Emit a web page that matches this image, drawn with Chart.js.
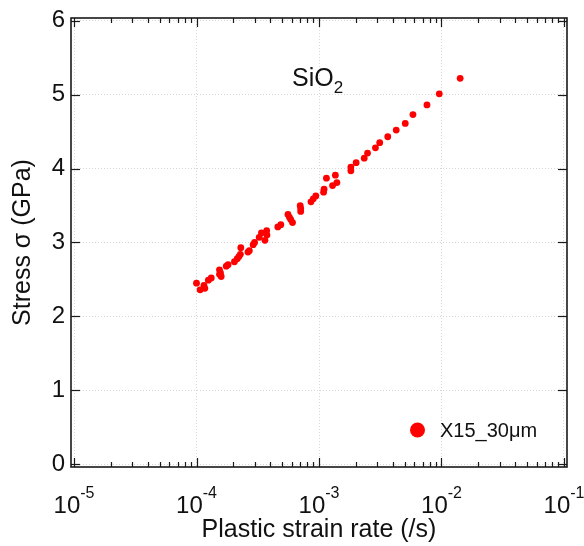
<!DOCTYPE html>
<html>
<head>
<meta charset="utf-8">
<script src="https://cdn.jsdelivr.net/npm/chart.js@4/dist/chart.umd.min.js"></script>
<style>
  html, body { margin: 0; padding: 0; background: #fff; }
  #wrap { width: 584px; height: 546px; position: relative; }
</style>
</head>
<body>
<div id="wrap"><canvas id="grafico"></canvas></div>
<script>
// Dados (taxa de deformação plástica em 1/s, tensão em GPa)
const strainRate = [
  1.00e-4, 1.07e-4, 1.15e-4, 1.17e-4, 1.25e-4, 1.32e-4, 1.54e-4, 1.57e-4, 1.54e-4, 1.59e-4,
  1.75e-4, 1.81e-4, 2.04e-4, 2.15e-4, 2.22e-4, 2.28e-4, 2.30e-4, 2.63e-4, 2.70e-4, 2.90e-4,
  2.98e-4, 3.25e-4, 3.39e-4, 3.62e-4, 3.76e-4, 3.74e-4, 4.61e-4, 4.88e-4, 5.58e-4, 5.74e-4,
  5.88e-4, 6.08e-4, 7.02e-4, 7.09e-4, 7.09e-4, 8.60e-4, 8.98e-4, 9.42e-4, 1.09e-3, 1.10e-3,
  1.15e-3, 1.29e-3, 1.40e-3, 1.36e-3, 1.82e-3, 1.82e-3, 2.01e-3, 2.34e-3, 2.49e-3, 2.89e-3,
  3.13e-3, 3.64e-3, 4.27e-3, 5.06e-3, 5.85e-3, 7.61e-3, 9.59e-3, 1.42e-2
];
const stress = [
  2.45, 2.36, 2.42, 2.38, 2.49, 2.52, 2.63, 2.59, 2.57, 2.54,
  2.68, 2.70, 2.74, 2.78, 2.81, 2.84, 2.93, 2.87, 2.89, 2.97,
  3.00, 3.07, 3.13, 3.03, 3.10, 3.16, 3.21, 3.24, 3.38, 3.34,
  3.31, 3.27, 3.50, 3.46, 3.42, 3.55, 3.59, 3.63, 3.68, 3.72,
  3.87, 3.77, 3.81, 3.91, 3.97, 4.02, 4.08, 4.14, 4.21, 4.28,
  4.35, 4.43, 4.52, 4.61, 4.73, 4.86, 5.01, 5.22
];
const seriesLabel = 'X15_30μm';
const xExponents = [-5, -4, -3, -2, -1];
const yTicks = [0, 1, 2, 3, 4, 5, 6];

const FONT = "'Liberation Sans', Arial, sans-serif";
const INK = '#111';
const GRID = '#d6d6d6';

function line(ctx, x1, y1, x2, y2) {
  ctx.beginPath();
  ctx.moveTo(x1, y1);
  ctx.lineTo(x2, y2);
  ctx.stroke();
}

// Moldura, ticks internos, rótulos 10^n, legenda e anotação
const molduraPlugin = {
  id: 'moldura',
  afterDraw(chart) {
    const { ctx, chartArea: a, scales: { x, y } } = chart;
    ctx.save();
    ctx.strokeStyle = '#1a1a1a';
    ctx.lineWidth = 1.2;
    x.ticks.forEach(t => {
      const px = Math.round(x.getPixelForValue(t.value)) + 0.5;
      const len = t.major ? 9 : 5;
      line(ctx, px, a.bottom, px, a.bottom - len);
      line(ctx, px, a.top, px, a.top + len);
    });
    y.ticks.forEach(t => {
      const py = Math.round(y.getPixelForValue(t.value)) + 0.5;
      line(ctx, a.left, py, a.left + 9, py);
      line(ctx, a.right, py, a.right - 9, py);
    });
    ctx.lineWidth = 1.6;
    ctx.strokeRect(a.left, a.top, a.right - a.left, a.bottom - a.top);

    // rótulos do eixo x com expoente
    ctx.fillStyle = INK;
    ctx.textBaseline = 'alphabetic';
    x.ticks.filter(t => t.major).forEach(t => {
      const px = x.getPixelForValue(t.value);
      const exp = String(Math.round(Math.log10(t.value)));
      ctx.font = '24px ' + FONT;
      const wBase = ctx.measureText('10').width;
      ctx.font = '16px ' + FONT;
      const wExp = ctx.measureText(exp).width;
      const x0 = px - (wBase + wExp) / 2;
      ctx.font = '24px ' + FONT;
      ctx.textAlign = 'left';
      ctx.fillText('10', x0, 513);
      ctx.font = '16px ' + FONT;
      ctx.fillText(exp, x0 + wBase, 498);
    });

    // anotação SiO2
    ctx.font = '25px ' + FONT;
    ctx.textAlign = 'left';
    const wSi = ctx.measureText('SiO').width;
    ctx.fillText('SiO', 292, 86);
    ctx.font = '17px ' + FONT;
    ctx.fillText('2', 292 + wSi, 93);

    // legenda
    const ds = chart.data.datasets[0];
    ctx.fillStyle = ds.backgroundColor;
    ctx.beginPath();
    ctx.arc(417.5, 430, 7.5, 0, Math.PI * 2);
    ctx.fill();
    ctx.fillStyle = INK;
    ctx.font = '20px ' + FONT;
    ctx.textBaseline = 'middle';
    ctx.fillText(ds.label, 440, 431);
    ctx.restore();
  }
};

const ctx = document.getElementById('grafico').getContext('2d');

new Chart(ctx, {
  type: 'scatter',
  data: {
    datasets: [{
      label: seriesLabel,
      data: strainRate.map((v, i) => ({ x: v, y: stress[i] })),
      backgroundColor: '#ff0000',
      borderWidth: 0,
      pointRadius: 3.4,
      pointHoverRadius: 3.4
    }]
  },
  options: {
    responsive: true,
    maintainAspectRatio: false,
    animation: false,
    events: [],
    layout: { padding: { top: 14, right: 17, left: 0, bottom: 0 } },
    plugins: {
      legend: { display: false },
      tooltip: { enabled: false }
    },
    scales: {
      x: {
        type: 'logarithmic',
        min: Math.pow(10, -5.0245),
        max: Math.pow(10, -0.9755),
        afterBuildTicks: scale => {
          const ticks = [];
          xExponents.forEach(e => {
            const base = Math.pow(10, e);
            ticks.push({ value: base, major: true });
            if (e < -1) {
              for (let m = 2; m <= 9; m++) ticks.push({ value: m * base, major: false });
            }
          });
          scale.ticks = ticks;
        },
        afterFit: scale => { scale.height = 79; },
        grid: {
          color: c => (c.tick && c.tick.major) ? GRID : 'rgba(0,0,0,0)',
          lineWidth: 1,
          drawTicks: false
        },
        border: { display: false, dash: [1, 2] },
        ticks: { display: false },
        title: {
          display: true,
          text: 'Plastic strain rate (/s)',
          color: INK,
          font: { family: FONT, size: 25 },
          padding: { top: 0, bottom: 1 }
        }
      },
      y: {
        type: 'linear',
        min: -0.036,
        max: 6.036,
        afterBuildTicks: scale => {
          scale.ticks = yTicks.map(v => ({ value: v }));
        },
        afterFit: scale => { scale.width = 71; },
        grid: {
          color: GRID,
          lineWidth: 1,
          drawTicks: false
        },
        border: { display: false, dash: [1, 2] },
        ticks: {
          color: INK,
          padding: 6,
          font: { family: FONT, size: 24, lineHeight: 1 },
          callback: v => String(v)
        },
        title: {
          display: true,
          text: 'Stress σ (GPa)',
          color: INK,
          font: { family: FONT, size: 25 },
          padding: { top: 8, bottom: 0 }
        }
      }
    }
  },
  plugins: [molduraPlugin]
});
</script>
</body>
</html>
